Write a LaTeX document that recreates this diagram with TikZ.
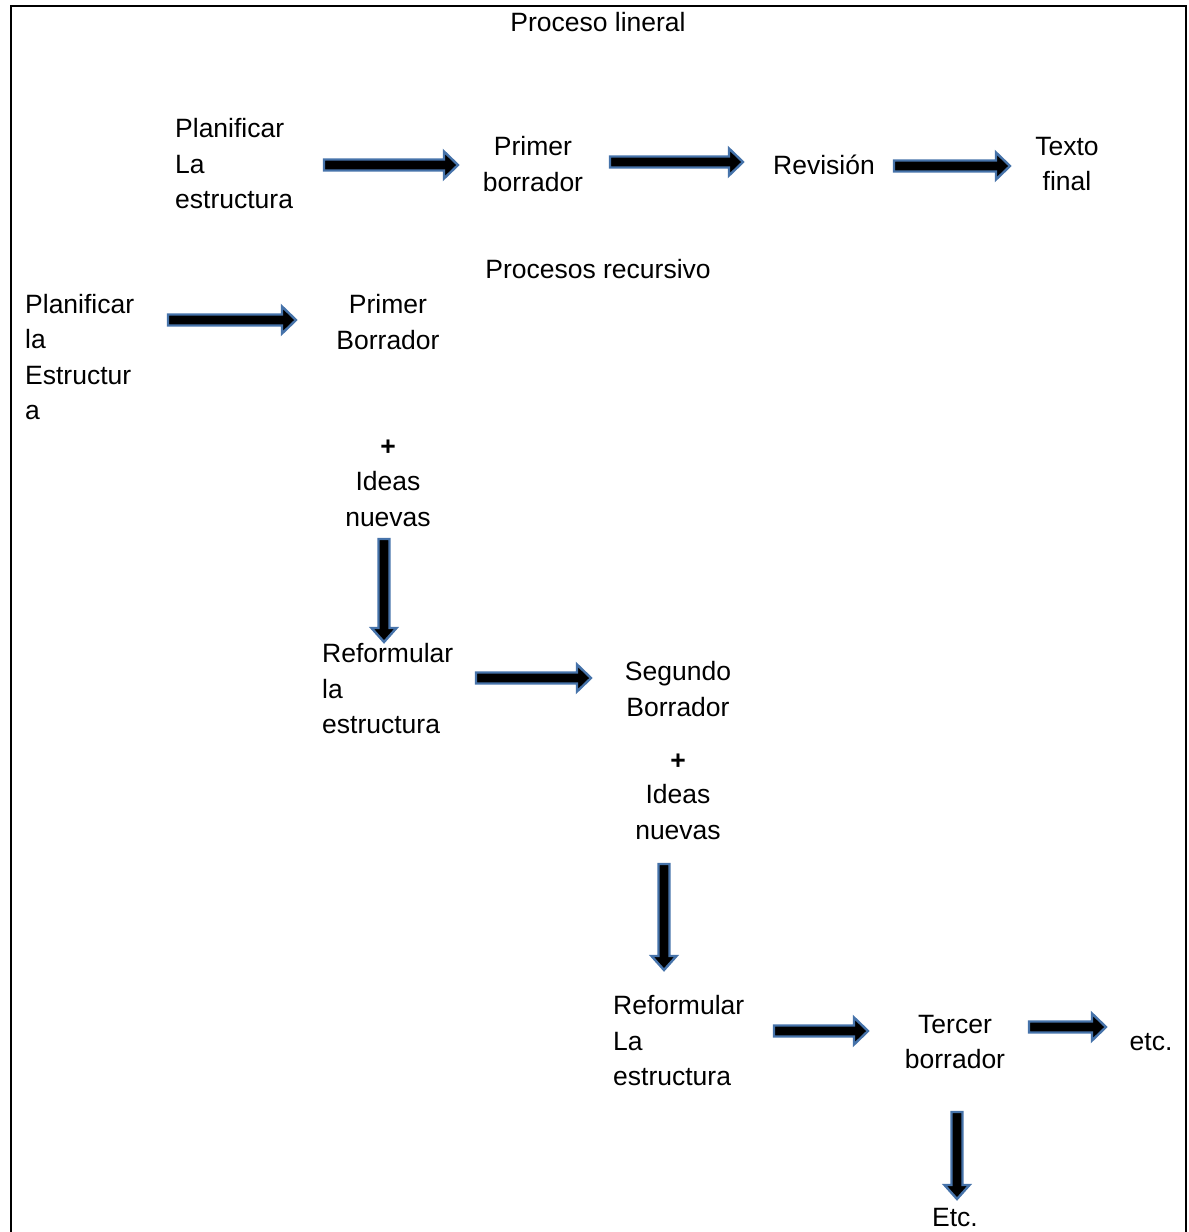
\documentclass[tikz,border=0pt]{standalone}
\usepackage{fontspec}
\setmainfont{Liberation Sans}
\usetikzlibrary{calc}
\definecolor{arrowedge}{RGB}{70,115,170}
\tikzset{
  txt/.style={inner sep=0pt, font=\fontsize{26.5}{35.5}\selectfont},
  txtl/.style={txt, align=left},
  txtc/.style={txt, align=center},
  harrow/.style={draw=arrowedge, fill=black, line width=2.4pt, line join=miter,
    to path={let \p1=(\tikztostart), \p2=(\tikztotarget) in
      (\x1,\y1+5.5pt) -- (\x2-14pt,\y1+5.5pt) -- (\x2-14pt,\y1+13.5pt) -- (\x2,\y1)
      -- (\x2-14pt,\y1-13.5pt) -- (\x2-14pt,\y1-5.5pt) -- (\x1,\y1-5.5pt) -- cycle}},
  varrow/.style={draw=arrowedge, fill=black, line width=2.4pt, line join=miter,
    to path={let \p1=(\tikztostart), \p2=(\tikztotarget) in
      (\x1-5.5pt,\y1) -- (\x1-5.5pt,\y2+14pt) -- (\x1-12.5pt,\y2+14pt) -- (\x1,\y2)
      -- (\x1+12.5pt,\y2+14pt) -- (\x1+5.5pt,\y2+14pt) -- (\x1+5.5pt,\y1) -- cycle}},
  frame/.style={line width=2pt, draw=black}
}
\begin{document}
\begin{tikzpicture}[x=1pt,y=-1pt]
\useasboundingbox (0,0) rectangle (1189,1232);
% frame
\coordinate (fbl) at (11,1232);
\coordinate (ftl) at (11,6);
\coordinate (ftr) at (1186,6);
\coordinate (fbr) at (1186,1232);
\draw[frame] (fbl) -- (ftl) -- (ftr) -- (fbr);

% linear process
\node[txtc] (t1) at (598,22) {Proceso lineral};
\node[txtl, anchor=west] (p1) at (175,164) {Planificar\\La\\estructura};
\node[txtc] (b1) at (533,164) {Primer\\borrador};
\node[txtc] (r1) at (824,165) {Revisión};
\node[txtc] (f1) at (1067,164) {Texto\\final};

% recursive process
\node[txtc] (t2) at (598,269) {Procesos recursivo};
\node[txtl, anchor=west] (p2) at (25,357) {Planificar\\la\\Estructur\\a};
\node[txtc] (b2) at (388,322) {Primer\\Borrador};
\node[txtc, font=\fontsize{26.5}{35.5}\selectfont\bfseries] (plus1) at (388,448) {+};
\node[txtc] (i1) at (388,499) {Ideas\\nuevas};
\node[txtl, anchor=west] (rf1) at (322,689) {Reformular\\la\\estructura};
\node[txtc] (s2) at (678,689) {Segundo\\Borrador};
\node[txtc, font=\fontsize{26.5}{35.5}\selectfont\bfseries] (plus2) at (678,762) {+};
\node[txtc] (i2) at (678,812) {Ideas\\nuevas};
\node[txtl, anchor=west] (rf2) at (613,1041) {Reformular\\La\\estructura};
\node[txtc] (tb) at (955,1042) {Tercer\\borrador};
\node[txtc] (etc1) at (1151,1042) {etc.};
\node[txtc] (etc2) at (955,1217) {Etc.};

% arrow end points
\coordinate (a1s) at (324,165); \coordinate (a1e) at (458,165);
\coordinate (a2s) at (610,162); \coordinate (a2e) at (743,162);
\coordinate (a3s) at (894,166); \coordinate (a3e) at (1010,166);
\coordinate (a4s) at (168,320); \coordinate (a4e) at (296,320);
\coordinate (a5s) at (384,539); \coordinate (a5e) at (384,642);
\coordinate (a6s) at (476,678); \coordinate (a6e) at (591,678);
\coordinate (a7s) at (664,864); \coordinate (a7e) at (664,970);
\coordinate (a8s) at (774,1031); \coordinate (a8e) at (868,1031);
\coordinate (a9s) at (1029,1027); \coordinate (a9e) at (1106,1027);
\coordinate (a10s) at (957,1112); \coordinate (a10e) at (957,1199);

\draw[harrow] (a1s) to (a1e);
\draw[harrow] (a2s) to (a2e);
\draw[harrow] (a3s) to (a3e);
\draw[harrow] (a4s) to (a4e);
\draw[varrow] (a5s) to (a5e);
\draw[harrow] (a6s) to (a6e);
\draw[varrow] (a7s) to (a7e);
\draw[harrow] (a8s) to (a8e);
\draw[harrow] (a9s) to (a9e);
\draw[varrow] (a10s) to (a10e);
\end{tikzpicture}
\end{document}
